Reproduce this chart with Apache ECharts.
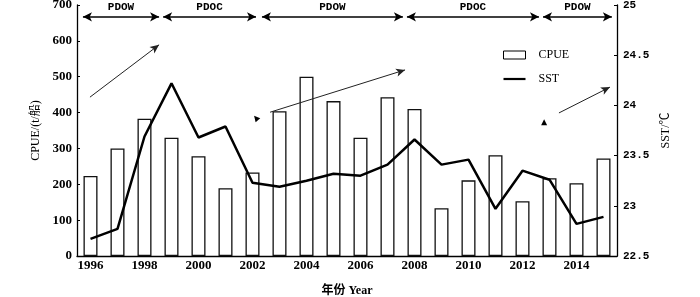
<!DOCTYPE html>
<html>
<head>
<meta charset="utf-8">
<script src="https://cdn.jsdelivr.net/npm/echarts@6/dist/echarts.min.js"></script>
<style>
  html, body { margin: 0; padding: 0; background: #fff; }
  #chart { width: 700px; height: 297px; }
</style>
</head>
<body>
<div id="chart"></div>
<script>
// 年份与两组数据
const years = ['1996', '1997', '1998', '1999', '2000', '2001', '2002', '2003', '2004', '2005',
  '2006', '2007', '2008', '2009', '2010', '2011', '2012', '2013', '2014', '2015']
const cpue = [223, 300, 383, 330, 278, 189, 233, 404, 500, 432, 330, 443, 410, 133, 211, 281, 153, 217, 203, 272]
const sst = [22.67, 22.77, 23.69, 24.22, 23.68, 23.79, 23.23, 23.19, 23.25, 23.32,
  23.30, 23.41, 23.66, 23.41, 23.46, 22.97, 23.35, 23.26, 22.82, 22.89]

// PDO 阶段（横向单位：类目宽度，0 = 1996 左边界）
const pdoPhases = ['PDOW', 'PDOC', 'PDOW', 'PDOC', 'PDOW']
const pdoStart = [0.22, 3.19, 6.85, 12.22, 17.26]
const pdoEnd = [3.04, 6.63, 12.07, 17.11, 19.81]
const pdoLevel = 667

// 趋势箭头 [x, y]
const trendFrom = [[0.48, 443], [7.15, 401], [17.85, 399]]
const trendTo = [[3.04, 589], [12.15, 519], [19.74, 471]]
// 单独的小三角 [x, y, 旋转]
const loneHeads = [[6.63, 385, 40], [17.3, 373, 0]]

const serif = '"Liberation Serif", "Noto Sans CJK SC", serif'
const mono = '"Liberation Mono", monospace'

const chart = echarts.init(document.getElementById('chart'))

const pdoLines = pdoPhases.map((name, i) => [
  { coord: [pdoStart[i], pdoLevel], name: name },
  { coord: [pdoEnd[i], pdoLevel] }
])
const trendLines = trendFrom.map((p, i) => [
  { coord: p, symbol: 'none' },
  { coord: trendTo[i] }
])

chart.setOption({
  animation: false,
  backgroundColor: '#fff',
  grid: { left: 77, right: 83, top: 5, bottom: 41, outerBoundsMode: 'none', containLabel: false },
  legend: {
    data: [
      { name: 'CPUE', icon: 'rect', itemStyle: { color: '#fff', borderColor: '#000', borderWidth: 1 } },
      { name: 'SST', icon: 'path://M0 0h20v2H0z', itemStyle: { color: '#000' } }
    ],
    orient: 'vertical',
    left: 498,
    top: 44,
    itemWidth: 22,
    itemHeight: 8,
    itemGap: 12,
    textStyle: { fontFamily: serif, fontSize: 12, color: '#000', padding: [0, 0, 0, 8] }
  },
  xAxis: [
    {
      type: 'category',
      data: years,
      name: '年份 Year',
      nameLocation: 'middle',
      nameGap: 29,
      nameTextStyle: { fontFamily: serif, fontSize: 12, fontWeight: 'bold', color: '#000' },
      axisLine: { lineStyle: { color: '#000', width: 1.3 } },
      axisTick: { show: false },
      axisLabel: { interval: 1, margin: 3, fontFamily: serif, fontSize: 13, fontWeight: 'bold', color: '#000' }
    },
    { type: 'value', min: 0, max: 20, show: false }
  ],
  yAxis: [
    {
      type: 'value',
      min: 0, max: 700, interval: 100,
      name: 'CPUE/(t/船)',
      nameLocation: 'middle',
      nameGap: 31,
      nameTextStyle: { fontFamily: serif, fontSize: 12, color: '#000' },
      axisLine: { show: true, lineStyle: { color: '#000', width: 1.3 } },
      axisTick: { show: true, inside: true, length: 3, lineStyle: { color: '#000' } },
      axisLabel: { margin: 5, fontFamily: serif, fontSize: 13, fontWeight: 'bold', color: '#000' },
      splitLine: { show: false }
    },
    {
      type: 'value',
      min: 22.5, max: 25, interval: 0.5,
      name: 'SST/℃',
      nameLocation: 'middle',
      nameGap: 40,
      nameTextStyle: { fontFamily: serif, fontSize: 12, color: '#000' },
      axisLine: { show: true, lineStyle: { color: '#000', width: 1.3 } },
      axisTick: { show: true, inside: true, length: 3, lineStyle: { color: '#000' } },
      axisLabel: { margin: 6, fontFamily: mono, fontSize: 11, fontWeight: 'bold', color: '#000' },
      splitLine: { show: false }
    }
  ],
  series: [
    {
      name: 'CPUE',
      type: 'bar',
      data: cpue,
      barWidth: 14,
      itemStyle: { color: '#fff', borderColor: '#111', borderWidth: 1.3 }
    },
    {
      name: 'SST',
      type: 'line',
      yAxisIndex: 1,
      data: sst,
      symbol: 'none',
      lineStyle: { color: '#000', width: 2.5 },
      itemStyle: { color: '#000' },
      z: 3
    },
    {
      name: 'annot',
      type: 'line',
      xAxisIndex: 1,
      yAxisIndex: 0,
      data: [],
      silent: true,
      markLine: {
        silent: true,
        symbol: ['arrow', 'arrow'],
        symbolSize: [7, 9],
        lineStyle: { color: '#000', width: 1.5, type: 'solid' },
        label: {
          position: 'middle',
          formatter: '{b}',
          distance: 4,
          fontFamily: mono,
          fontSize: 11,
          fontWeight: 'bold',
          color: '#000'
        },
        emphasis: { disabled: true },
        data: pdoLines
      },
      markPoint: {
        silent: true,
        symbol: 'triangle',
        symbolSize: [6, 6],
        itemStyle: { color: '#000' },
        label: { show: false },
        data: loneHeads.map(h => ({ coord: [h[0], h[1]], symbolRotate: h[2] }))
      }
    },
    {
      name: 'trend',
      type: 'line',
      xAxisIndex: 1,
      yAxisIndex: 0,
      data: [],
      silent: true,
      markLine: {
        silent: true,
        symbol: ['none', 'arrow'],
        symbolSize: [6, 9],
        lineStyle: { color: '#222', width: 1, type: 'solid' },
        label: { show: false },
        emphasis: { disabled: true },
        data: trendLines
      }
    }
  ]
})
</script>
</body>
</html>
